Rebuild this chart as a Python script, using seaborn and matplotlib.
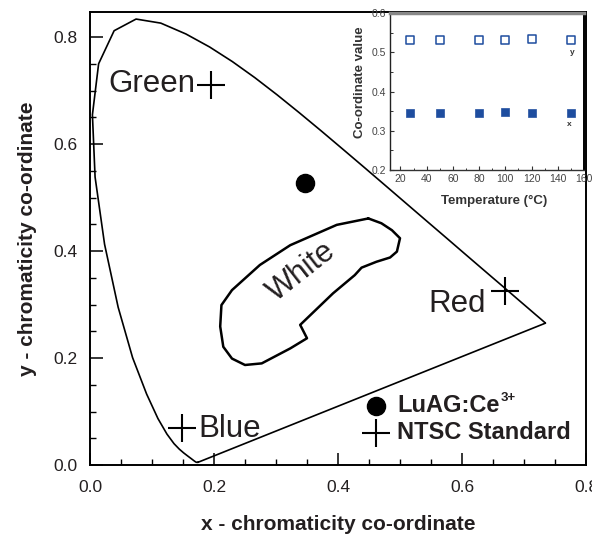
import matplotlib
matplotlib.use('Agg')
import matplotlib.pyplot as plt
from matplotlib.ticker import MultipleLocator
import seaborn as sns
import pandas as pd

sns.set_theme(style='white')
plt.rcParams['font.family'] = ['Liberation Sans', 'DejaVu Sans']

# CIE 1931 spectral locus (closed by the purple line)
locus_x = [0.1741, 0.1714, 0.1689, 0.1644, 0.1566, 0.1510, 0.1440, 0.1355, 0.1241,
           0.1096, 0.0913, 0.0687, 0.0454, 0.0235, 0.0082, 0.0039, 0.0139, 0.0389,
           0.0743, 0.1142, 0.1547, 0.1929, 0.2296, 0.2658, 0.3016, 0.3373, 0.3731,
           0.4087, 0.4441, 0.4788, 0.5125, 0.5448, 0.5752, 0.6029, 0.6270, 0.6482,
           0.6658, 0.6915, 0.7079, 0.7190, 0.7260, 0.7300, 0.7334, 0.7347, 0.1741]
locus_y = [0.0050, 0.0051, 0.0069, 0.0109, 0.0177, 0.0227, 0.0297, 0.0399, 0.0578,
           0.0868, 0.1327, 0.2007, 0.2950, 0.4127, 0.5384, 0.6548, 0.7502, 0.8120,
           0.8338, 0.8262, 0.8059, 0.7816, 0.7543, 0.7243, 0.6923, 0.6589, 0.6245,
           0.5896, 0.5547, 0.5202, 0.4866, 0.4544, 0.4242, 0.3965, 0.3725, 0.3514,
           0.3340, 0.3083, 0.2920, 0.2809, 0.2740, 0.2700, 0.2666, 0.2653, 0.0050]

# White region outline
white_x = [0.449, 0.470, 0.487, 0.500, 0.495, 0.484, 0.462, 0.438, 0.427, 0.392,
           0.339, 0.350, 0.323, 0.277, 0.250, 0.229, 0.215, 0.210, 0.212, 0.229,
           0.274, 0.323, 0.398, 0.449]
white_y = [0.461, 0.452, 0.439, 0.424, 0.399, 0.388, 0.380, 0.369, 0.355, 0.321,
           0.262, 0.237, 0.218, 0.190, 0.187, 0.199, 0.221, 0.259, 0.299, 0.327,
           0.374, 0.411, 0.449, 0.461]

ntsc_names = ['Green', 'Red', 'Blue']
ntsc_x = [0.195, 0.670, 0.148]
ntsc_y = [0.710, 0.325, 0.070]

luag_x = [0.346]
luag_y = [0.528]

temps = [27, 50, 80, 100, 120, 150]
coord_x = [0.345, 0.344, 0.346, 0.347, 0.345, 0.346]
coord_y = [0.531, 0.532, 0.532, 0.531, 0.534, 0.532]

TXT = '#231f20'

fig = plt.figure(figsize=(5.92, 5.40), dpi=100)
ax = fig.add_axes([90 / 592, 1 - 465 / 540, 496 / 592, 453 / 540])
ax.set_facecolor('white')

sns.lineplot(x=locus_x, y=locus_y, sort=False, ax=ax, color='black', lw=1.2,
             estimator=None)
sns.lineplot(x=white_x, y=white_y, sort=False, ax=ax, color='black', lw=1.8,
             estimator=None)

h_luag = ax.scatter(luag_x, luag_y, s=170, marker='o', color='black', zorder=5,
                    label='LuAG:Ce')
sns.scatterplot(x=ntsc_x, y=ntsc_y, ax=ax, marker='+', s=380, color='black',
                linewidth=1.5, zorder=5, legend=False)
h_ntsc = ax.collections[-1]
h_ntsc.set_label('NTSC Standard')

offsets = {'Green': (-11, 1, 'right'), 'Red': (-14, -9, 'right'), 'Blue': (12, -1, 'left')}
for n, xv, yv in zip(ntsc_names, ntsc_x, ntsc_y):
    dx, dy, ha = offsets[n]
    ax.annotate(n, (xv, yv), xytext=(dx, dy), textcoords='offset points',
                ha=ha, va='center', fontsize=22.5, color=TXT)

ax.text(0.342, 0.361, 'White', rotation=38, ha='center', va='center',
        fontsize=22, color=TXT)

leg = ax.legend(handles=[h_luag, h_ntsc], loc='upper left',
                bbox_to_anchor=(363 / 592, 1 - 394 / 540),
                bbox_transform=fig.transFigure, frameon=False,
                prop={'weight': 'bold', 'size': 17}, handlelength=1.1,
                handletextpad=0.35, labelspacing=0.18, borderpad=0,
                borderaxespad=0, scatterpoints=1)
for t in leg.get_texts():
    t.set_color(TXT)

ax.set_xlim(0, 0.8)
ax.set_ylim(0, 0.847)
ax.xaxis.set_major_locator(MultipleLocator(0.2))
ax.xaxis.set_minor_locator(MultipleLocator(0.05))
ax.yaxis.set_major_locator(MultipleLocator(0.2))
ax.yaxis.set_minor_locator(MultipleLocator(0.05))
ax.tick_params(which='both', direction='in', bottom=True, left=True, top=False,
               right=False, colors='black', labelcolor=TXT)
ax.tick_params(which='major', length=9, width=1.1, labelsize=12.5)
ax.tick_params(axis='x', which='major', pad=11)
ax.tick_params(axis='y', which='major', pad=9)
ax.tick_params(which='minor', length=4.5, width=1.0)
for s in ax.spines.values():
    s.set_color('black')
    s.set_linewidth(1.4)
ax.set_xlabel('x - chromaticity co-ordinate', fontsize=15, fontweight='bold',
              color=TXT, labelpad=14)
ax.set_ylabel('y - chromaticity co-ordinate', fontsize=15, fontweight='bold',
              color=TXT, labelpad=12)

# Inset
ai = fig.add_axes([390 / 592, 1 - 170 / 540, 194 / 592, 157 / 540])
ai.set_facecolor('white')
sns.scatterplot(x=temps, y=coord_y, ax=ai, marker='s', s=30, facecolor='white',
                edgecolor='#1e4d9f', linewidth=1.1, legend=False, zorder=3)
sns.scatterplot(x=temps, y=coord_x, ax=ai, marker='s', s=36, color='#1e4d9f',
                edgecolor='#1e4d9f', legend=False, zorder=3)
ai.text(151, 0.50, 'y', fontsize=6, fontweight='bold', color='#333333',
        ha='center', va='center')
ai.text(149, 0.315, 'x', fontsize=6, fontweight='bold', color='#333333',
        ha='center', va='center')
ai.set_xlim(12, 160)
ai.set_ylim(0.2, 0.6)
ai.xaxis.set_major_locator(MultipleLocator(20))
ai.xaxis.set_minor_locator(MultipleLocator(10))
ai.yaxis.set_major_locator(MultipleLocator(0.1))
ai.yaxis.set_minor_locator(MultipleLocator(0.05))
ai.tick_params(which='both', direction='in', bottom=True, left=True, top=False,
               right=False, colors='#333333', labelcolor='#444444', labelsize=7.5)
ai.tick_params(which='major', length=3, width=0.8, pad=3)
ai.tick_params(which='minor', length=1.8, width=0.7)
ai.spines['top'].set_color('#888888')
ai.spines['top'].set_linewidth(2.5)
ai.spines['left'].set_color('#222222')
ai.spines['left'].set_linewidth(1.0)
ai.spines['bottom'].set_color('#333333')
ai.spines['bottom'].set_linewidth(1.0)
ai.spines['right'].set_color('black')
ai.spines['right'].set_linewidth(1.4)
ai.set_xlabel('Temperature (°C)', fontsize=9.5, fontweight='bold', color='#333333')
ai.set_ylabel('Co-ordinate value', fontsize=9.5, fontweight='bold', color='#333333')
ai.xaxis.set_label_coords(0.535, -0.16)
ai.yaxis.set_label_coords(-0.125, 0.56)

# superscript for the legend label, placed after layout is known
fig.canvas.draw()
bb = leg.get_texts()[0].get_window_extent()
W, H = fig.bbox.width, fig.bbox.height
fig.text((bb.x1 + 1) / W, (bb.y1 + 2) / H, '3+', ha='left', va='top',
         fontsize=9.5, fontweight='bold', color=TXT)

fig.savefig('out.png', dpi=100, facecolor='white')
